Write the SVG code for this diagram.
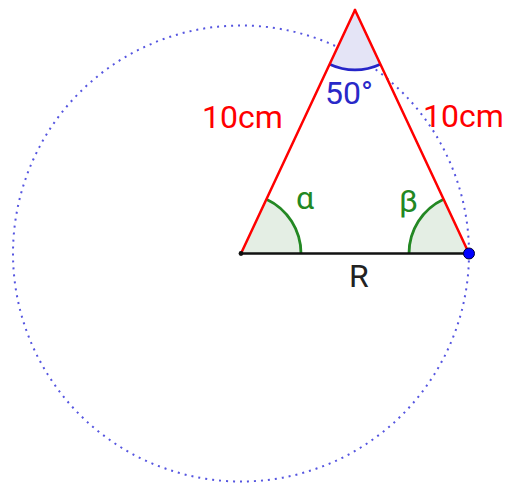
<svg xmlns="http://www.w3.org/2000/svg" width="508" height="486" viewBox="0 0 508 486">
<style>
.lbl{font-family:Roboto,"Liberation Sans",sans-serif;font-size:32px}
.red{fill:#ff0000}
.blue{fill:#2929c8}
.green{fill:#238823}
.side{stroke:#ff0000;stroke-width:2.5;fill:none;stroke-linecap:round}
</style>
<rect width="508" height="486" fill="#ffffff"/>
<g id="circle">
<circle cx="241" cy="253.5" r="228" fill="none" stroke="#5555e0" stroke-width="2" stroke-dasharray="2 5"/>
</g>
<g id="angle-apex">
<path d="M355,10 L329.6,64.3 A60,60 0 0 0 380.4,64.3 Z" fill="#e4e4f6"/>
<path d="M329.6,64.3 A60,60 0 0 0 380.4,64.3" fill="none" stroke="#2525c8" stroke-width="2.8"/>
</g>
<g id="angle-alpha">
<path d="M241,253.5 L301,253.5 A60,60 0 0 0 266.4,199.2 Z" fill="#e4eee4"/>
<path d="M301,253.5 A60,60 0 0 0 266.4,199.2" fill="none" stroke="#238823" stroke-width="2.8"/>
</g>
<g id="angle-beta">
<path d="M469,253.5 L409,253.5 A60,60 0 0 1 443.6,199.2 Z" fill="#e4eee4"/>
<path d="M409,253.5 A60,60 0 0 1 443.6,199.2" fill="none" stroke="#238823" stroke-width="2.8"/>
</g>
<g id="connectors">
<line x1="241" y1="253.5" x2="469" y2="253.5" stroke="#111111" stroke-width="2.5"/>
<line class="side" x1="241" y1="253.5" x2="355" y2="10"/>
<line class="side" x1="469" y1="253.5" x2="355" y2="10"/>
</g>
<g id="point-A">
<circle cx="241" cy="253.5" r="2.4" fill="#111111"/>
</g>
<g id="point-B">
<circle cx="469" cy="253.5" r="5.5" fill="#0000ff" stroke="#000033" stroke-width="1"/>
</g>
<g id="labels">
<text class="lbl red" x="202" y="128">10cm</text>
<text class="lbl red" x="423" y="127">10cm</text>
<text class="lbl blue" x="325" y="104">50°</text>
<text class="lbl green" x="296" y="209" font-family="'DejaVu Serif',serif">α</text>
<text class="lbl green" x="399" y="212">β</text>
<text class="lbl" x="349" y="287" fill="#222222">R</text>
</g>
</svg>
